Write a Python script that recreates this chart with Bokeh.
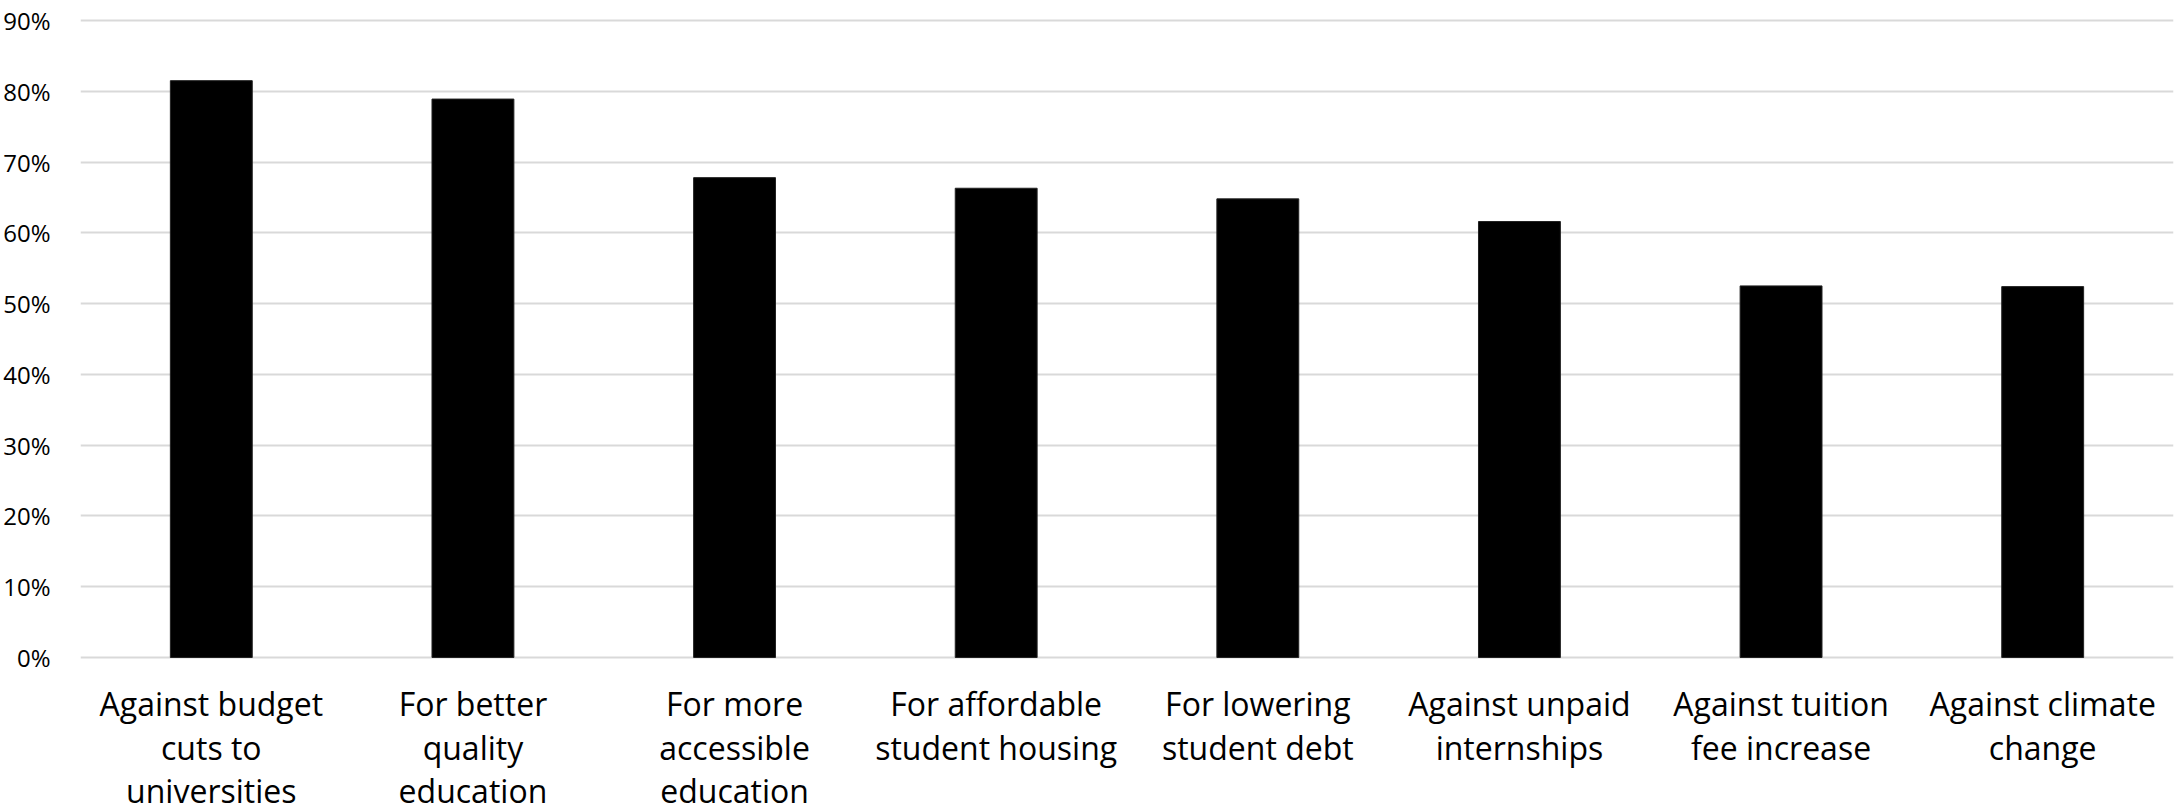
from bokeh.plotting import figure
from bokeh.models import FactorRange, Range1d, FixedTicker
from bokeh.core.properties import value
from bokeh.embed import file_html
from bokeh.resources import INLINE

categories = [
    "Against budget cuts to universities",
    "For better quality education",
    "For more accessible education",
    "For affordable student housing",
    "For lowering student debt",
    "Against unpaid internships",
    "Against tuition fee increase",
    "Against climate change",
]
label_line1 = ["Against budget", "For better", "For more", "For affordable",
               "For lowering", "Against unpaid", "Against tuition", "Against climate"]
label_line2 = ["cuts to", "quality", "accessible", "student housing",
               "student debt", "internships", "fee increase", "change"]
label_line3 = ["universities", "education", "education", "", "", "", "", ""]
values = [81.5, 78.9, 67.8, 66.3, 64.8, 61.6, 52.5, 52.4]
y_ticks = [0, 10, 20, 30, 40, 50, 60, 70, 80, 90]
y_tick_labels = ["0%", "10%", "20%", "30%", "40%", "50%", "60%", "70%", "80%", "90%"]

FONT = "Open Sans"

# layout: 90% line 20px below top, 0% line 155px above bottom
PX = 637 / 90.0
p = figure(
    x_range=FactorRange(*categories),
    y_range=Range1d(-155 / PX, 90 + 20 / PX),
    width=2181, height=812,
    output_backend="svg", toolbar_location=None,
    min_border_left=77, min_border_right=8,
    min_border_top=0, min_border_bottom=0,
)
p.outline_line_color = None
p.background_fill_color = "white"
p.border_fill_color = "white"

p.vbar(x=categories, top=values, width=0.313, fill_color="black", line_color="#222222", line_width=1)

p.xgrid.grid_line_color = None
p.ygrid.grid_line_color = "#d9d9d9"
p.ygrid.grid_line_width = 2

p.yaxis.ticker = FixedTicker(ticks=y_ticks)
p.yaxis.major_label_overrides = {t: l for t, l in zip(y_ticks, y_tick_labels)}
p.yaxis.axis_line_color = None
p.yaxis.major_tick_line_color = None
p.yaxis.minor_tick_line_color = None
p.yaxis.major_label_text_font = FONT
p.yaxis.major_label_text_font_size = "24px"
p.yaxis.major_label_text_color = "black"
p.yaxis.major_label_standoff = 24

p.xaxis.visible = False

zeros = [0] * len(categories)
for lines, off in ((label_line1, 46), (label_line2, 90), (label_line3, 133)):
    p.text(x=categories, y=zeros, text=lines, y_offset=off,
           text_align="center", text_baseline="alphabetic",
           text_font=value(FONT), text_font_size="32px", text_color="black")

open("out.html", "w").write(file_html(p, INLINE))
